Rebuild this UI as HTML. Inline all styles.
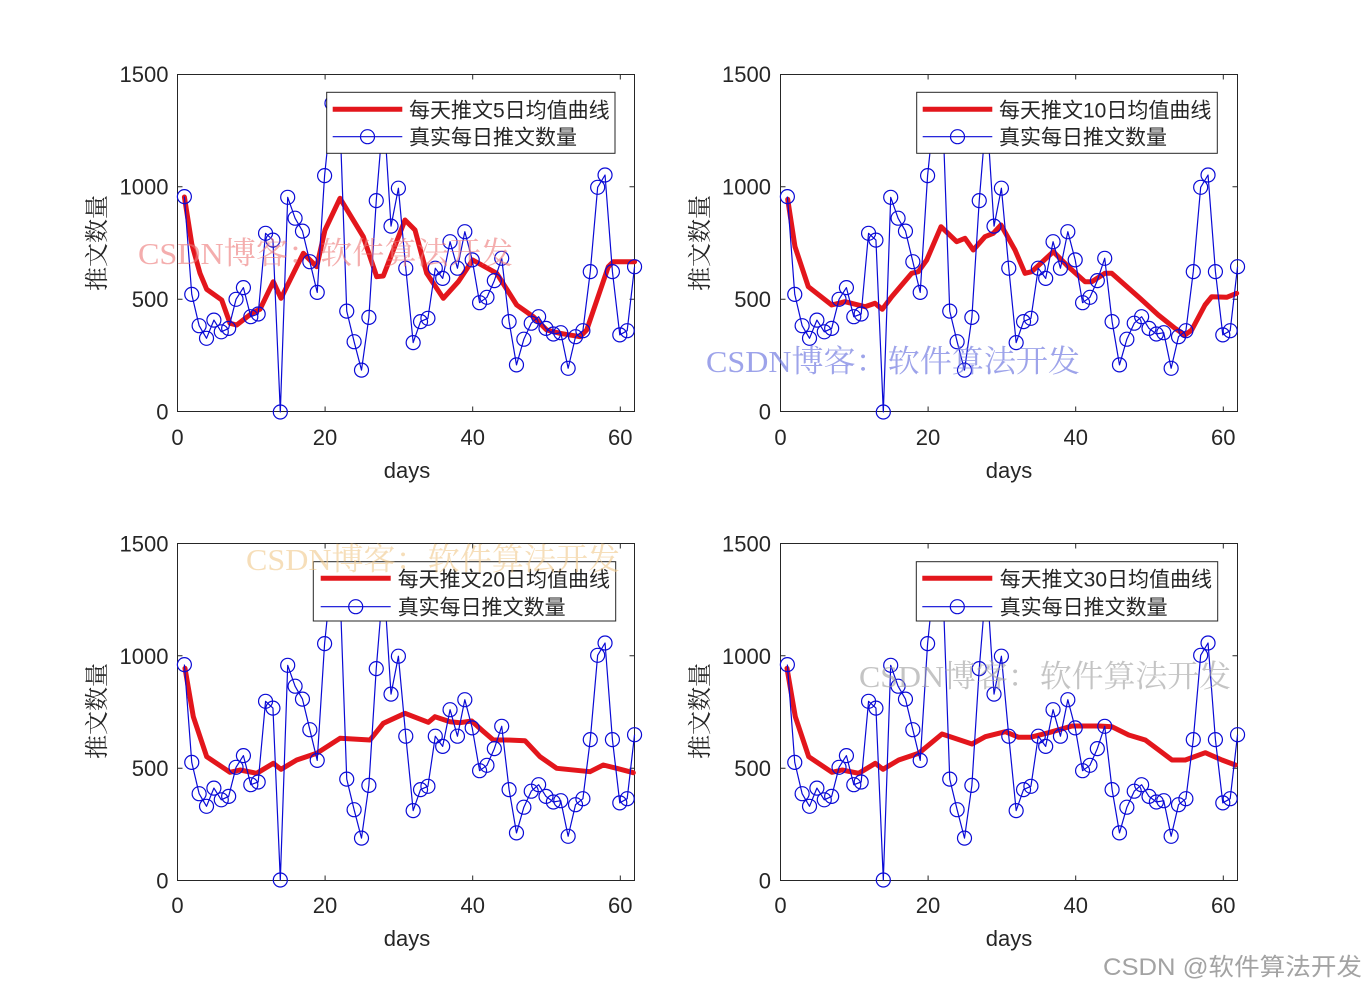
<!DOCTYPE html>
<html>
<head>
<meta charset="utf-8">
<style>
html,body{margin:0;padding:0;background:#fff;}
svg{display:block}
</style>
</head>
<body>
<svg width="1367" height="989" viewBox="0 0 1367 989" xmlns="http://www.w3.org/2000/svg" xmlns:xlink="http://www.w3.org/1999/xlink">
<defs>
<g id="blue" fill="none" stroke="#0a0ad6" stroke-width="1.2">
<polyline stroke-linejoin="round" points="7.38,-215.4 14.76,-117.6 22.14,-86.3 29.52,-73.7 36.9,-91.9 44.28,-80.2 51.66,-83.6 59.04,-112.7 66.42,-124.4 73.8,-95.3 81.18,-98 88.56,-178.7 95.94,-171.9 103.32,0 110.7,-214.7 118.08,-193.8 125.46,-180.9 132.84,-150.3 140.22,-119.6 147.6,-236.4 154.98,-308.7 162.36,-308.7 169.74,-100.9 177.12,-70.3 184.5,-41.9 191.88,-94.6 199.26,-211.4 206.64,-301.9 214.02,-185.9 221.4,-223.8 228.78,-143.8 236.16,-69.4 243.54,-90.4 250.92,-93.7 258.3,-143.8 265.68,-133.6 273.06,-170.3 280.44,-143.8 287.82,-180.3 295.2,-152.1 302.58,-109.3 309.96,-114.7 317.34,-131.4 324.72,-153.7 332.1,-90.4 339.48,-47.1 346.86,-72.8 354.24,-88.8 361.62,-95.3 369,-83.6 376.38,-78 383.76,-79.3 391.14,-43.7 398.52,-75.3 405.9,-81.3 413.28,-140.4 420.66,-224.7 428.04,-237 435.42,-140.4 442.8,-77.1 450.18,-81.3 457.56,-145.3"/>
<circle cx="7.38" cy="-215.4" r="7"/><circle cx="14.76" cy="-117.6" r="7"/><circle cx="22.14" cy="-86.3" r="7"/><circle cx="29.52" cy="-73.7" r="7"/><circle cx="36.9" cy="-91.9" r="7"/><circle cx="44.28" cy="-80.2" r="7"/><circle cx="51.66" cy="-83.6" r="7"/><circle cx="59.04" cy="-112.7" r="7"/><circle cx="66.42" cy="-124.4" r="7"/><circle cx="73.8" cy="-95.3" r="7"/><circle cx="81.18" cy="-98" r="7"/><circle cx="88.56" cy="-178.7" r="7"/><circle cx="95.94" cy="-171.9" r="7"/><circle cx="103.32" cy="0" r="7"/><circle cx="110.7" cy="-214.7" r="7"/><circle cx="118.08" cy="-193.8" r="7"/><circle cx="125.46" cy="-180.9" r="7"/><circle cx="132.84" cy="-150.3" r="7"/><circle cx="140.22" cy="-119.6" r="7"/><circle cx="147.6" cy="-236.4" r="7"/><circle cx="154.98" cy="-308.7" r="7"/><circle cx="162.36" cy="-308.7" r="7"/><circle cx="169.74" cy="-100.9" r="7"/><circle cx="177.12" cy="-70.3" r="7"/><circle cx="184.5" cy="-41.9" r="7"/><circle cx="191.88" cy="-94.6" r="7"/><circle cx="199.26" cy="-211.4" r="7"/><circle cx="206.64" cy="-301.9" r="7"/><circle cx="214.02" cy="-185.9" r="7"/><circle cx="221.4" cy="-223.8" r="7"/><circle cx="228.78" cy="-143.8" r="7"/><circle cx="236.16" cy="-69.4" r="7"/><circle cx="243.54" cy="-90.4" r="7"/><circle cx="250.92" cy="-93.7" r="7"/><circle cx="258.3" cy="-143.8" r="7"/><circle cx="265.68" cy="-133.6" r="7"/><circle cx="273.06" cy="-170.3" r="7"/><circle cx="280.44" cy="-143.8" r="7"/><circle cx="287.82" cy="-180.3" r="7"/><circle cx="295.2" cy="-152.1" r="7"/><circle cx="302.58" cy="-109.3" r="7"/><circle cx="309.96" cy="-114.7" r="7"/><circle cx="317.34" cy="-131.4" r="7"/><circle cx="324.72" cy="-153.7" r="7"/><circle cx="332.1" cy="-90.4" r="7"/><circle cx="339.48" cy="-47.1" r="7"/><circle cx="346.86" cy="-72.8" r="7"/><circle cx="354.24" cy="-88.8" r="7"/><circle cx="361.62" cy="-95.3" r="7"/><circle cx="369" cy="-83.6" r="7"/><circle cx="376.38" cy="-78" r="7"/><circle cx="383.76" cy="-79.3" r="7"/><circle cx="391.14" cy="-43.7" r="7"/><circle cx="398.52" cy="-75.3" r="7"/><circle cx="405.9" cy="-81.3" r="7"/><circle cx="413.28" cy="-140.4" r="7"/><circle cx="420.66" cy="-224.7" r="7"/><circle cx="428.04" cy="-237" r="7"/><circle cx="435.42" cy="-140.4" r="7"/><circle cx="442.8" cy="-77.1" r="7"/><circle cx="450.18" cy="-81.3" r="7"/><circle cx="457.56" cy="-145.3" r="7"/>
</g>
<g id="axes" fill="none" stroke="#262626" stroke-width="1">
<rect x="0" y="-337" width="457" height="337"/>
<path d="M147.6,0v-5 M295.2,0v-5 M442.8,0v-5 M147.6,-337v5 M295.2,-337v5 M442.8,-337v5 M0,-112.3h5 M0,-224.7h5 M457,-112.3h-5 M457,-224.7h-5"/>
</g>
</defs>

<rect x="0" y="0" width="1367" height="989" fill="#fff"/>

<!-- Axes boxes -->
<use xlink:href="#axes" href="#axes" transform="translate(177.5,411.5)"/>
<use xlink:href="#axes" href="#axes" transform="translate(780.5,411.5)"/>
<use xlink:href="#axes" href="#axes" transform="translate(177.5,880.5)"/>
<use xlink:href="#axes" href="#axes" transform="translate(780.5,880.5)"/>

<!-- Subplot 1 data -->
<g transform="translate(177,412)">
<polyline fill="none" stroke="#e3161c" stroke-width="5" stroke-linejoin="round" stroke-linecap="round" points="7.4,-215 14.8,-168 23,-138.7 29.7,-122.7 44.7,-112 53,-88.7 59.7,-87 74.7,-98.7 83,-102.7 96.3,-130.3 104,-113.7 126.3,-158.7 139.7,-145.3 148,-182 163,-213.7 186.3,-175.3 199.7,-135.3 206.3,-136 228,-192 238,-182 249.7,-138.7 266.3,-113.7 281.3,-130.3 295.7,-152 319.7,-138.7 339.7,-107 356.3,-95.3 369.7,-82 383,-78.7 403,-75.3 409.7,-82 431.3,-145.3 436.3,-150.3 457.6,-150.3"/>
<use xlink:href="#blue" href="#blue"/>
</g>
<!-- Subplot 2 data -->
<g transform="translate(780,412)">
<polyline fill="none" stroke="#e3161c" stroke-width="5" stroke-linejoin="round" stroke-linecap="round" points="7.7,-212.7 15,-165.3 28.3,-125.3 51.7,-107 65,-110.3 85,-105.3 95,-108.7 102.3,-102.7 111.7,-115.3 131.7,-138.7 138.3,-140.3 146.7,-152 161,-185.3 176.7,-170.3 185,-173.7 193.3,-162 205,-175.3 213.3,-178.7 221,-187 235,-162 245,-138.7 251.7,-140.3 273.3,-160.3 288.3,-145.3 305,-130.3 311.7,-130.3 325,-138.7 331.7,-138.7 358.3,-115.3 378.3,-97 395,-83.7 405,-77 411.7,-82 425,-107 431.7,-115.3 446.7,-114.7 456.7,-118.7"/>
<use xlink:href="#blue" href="#blue"/>
</g>
<!-- Subplot 3 data -->
<g transform="translate(177,880)">
<polyline fill="none" stroke="#e3161c" stroke-width="5" stroke-linejoin="round" stroke-linecap="round" points="8,-211.7 16.3,-163.3 29.7,-123.3 53,-107.7 63,-110 79.7,-106.7 96.3,-116.7 104,-110.7 119.7,-120 139.7,-126.7 163,-141.7 193,-140 206.3,-156.7 228,-166.7 251.3,-157.7 258,-163.3 273,-158.3 283,-157.3 294.7,-159 304.7,-150 316.3,-140 329.7,-140 348,-139.3 363,-123.3 379.7,-111.7 413,-108.3 426.3,-115 439.7,-111.7 456.3,-107.3"/>
<use xlink:href="#blue" href="#blue"/>
</g>
<!-- Subplot 4 data -->
<g transform="translate(780,880)">
<polyline fill="none" stroke="#e3161c" stroke-width="5" stroke-linejoin="round" stroke-linecap="round" points="7,-211.7 15.3,-163.3 28.7,-123.3 52,-107.7 62,-110 78.7,-106.7 95.3,-116.7 103,-110.7 118.7,-120 138.7,-126.7 162,-146 192,-136 205.3,-143.3 225.3,-148.3 238.7,-142.7 250.3,-142.7 268.7,-147.3 292,-154 318.7,-154 332,-153.3 348.7,-145 365.3,-140 378.7,-130 392,-120 405.3,-120 425.3,-127.3 442,-120 455.3,-115"/>
<use xlink:href="#blue" href="#blue"/>
</g>

<!-- Legends -->
<g font-family="Liberation Sans, 'Noto Sans CJK SC', sans-serif" font-size="21" fill="#262626">
  <rect x="326.7" y="92.3" width="288.3" height="61" fill="#fff" stroke="#262626" stroke-width="1"/>
  <line x1="332.7" y1="109.3" x2="402.3" y2="109.3" stroke="#e3161c" stroke-width="5"/>
  <line x1="332.7" y1="136.7" x2="402.3" y2="136.7" stroke="#0a0ad6" stroke-width="1.2"/>
  <circle cx="367.5" cy="136.7" r="7" fill="none" stroke="#0a0ad6" stroke-width="1.2"/>
  <text x="409" y="117.3">每天推文5日均值曲线</text>
  <text x="409" y="144.7">真实每日推文数量</text>

  <rect x="916.7" y="92.3" width="300.6" height="61" fill="#fff" stroke="#262626" stroke-width="1"/>
  <line x1="922.7" y1="109.3" x2="992.3" y2="109.3" stroke="#e3161c" stroke-width="5"/>
  <line x1="922.7" y1="136.7" x2="992.3" y2="136.7" stroke="#0a0ad6" stroke-width="1.2"/>
  <circle cx="957.5" cy="136.7" r="7" fill="none" stroke="#0a0ad6" stroke-width="1.2"/>
  <text x="999" y="117.3">每天推文10日均值曲线</text>
  <text x="999" y="144.7">真实每日推文数量</text>

  <rect x="313.3" y="561.7" width="302.4" height="59.3" fill="#fff" stroke="#262626" stroke-width="1"/>
  <line x1="320.7" y1="578.3" x2="390.7" y2="578.3" stroke="#e3161c" stroke-width="5"/>
  <line x1="320.7" y1="606.7" x2="390.7" y2="606.7" stroke="#0a0ad6" stroke-width="1.2"/>
  <circle cx="355.7" cy="606.7" r="7" fill="none" stroke="#0a0ad6" stroke-width="1.2"/>
  <text x="397.7" y="586.3">每天推文20日均值曲线</text>
  <text x="397.7" y="614.7">真实每日推文数量</text>

  <rect x="916.3" y="561.7" width="301.4" height="59.3" fill="#fff" stroke="#262626" stroke-width="1"/>
  <line x1="922.3" y1="578.3" x2="992.3" y2="578.3" stroke="#e3161c" stroke-width="5"/>
  <line x1="922.3" y1="606.7" x2="992.3" y2="606.7" stroke="#0a0ad6" stroke-width="1.2"/>
  <circle cx="957.3" cy="606.7" r="7" fill="none" stroke="#0a0ad6" stroke-width="1.2"/>
  <text x="999.7" y="586.3">每天推文30日均值曲线</text>
  <text x="999.7" y="614.7">真实每日推文数量</text>
</g>

<!-- Tick labels -->
<g font-family="Liberation Sans, sans-serif" font-size="22" fill="#262626">
  <g text-anchor="middle">
    <text x="177.5" y="445">0</text><text x="325" y="445">20</text><text x="472.7" y="445">40</text><text x="620.3" y="445">60</text>
    <text x="780.5" y="445">0</text><text x="928" y="445">20</text><text x="1075.7" y="445">40</text><text x="1223.3" y="445">60</text>
    <text x="177.5" y="913">0</text><text x="325" y="913">20</text><text x="472.7" y="913">40</text><text x="620.3" y="913">60</text>
    <text x="780.5" y="913">0</text><text x="928" y="913">20</text><text x="1075.7" y="913">40</text><text x="1223.3" y="913">60</text>
    <text x="407" y="478">days</text><text x="1009" y="478">days</text>
    <text x="407" y="946">days</text><text x="1009" y="946">days</text>
  </g>
  <g text-anchor="end">
    <text x="168.5" y="82">1500</text><text x="168.5" y="194.5">1000</text><text x="168.5" y="307">500</text><text x="168.5" y="419.5">0</text>
    <text x="771" y="82">1500</text><text x="771" y="194.5">1000</text><text x="771" y="307">500</text><text x="771" y="419.5">0</text>
    <text x="168.5" y="551.5">1500</text><text x="168.5" y="663.8">1000</text><text x="168.5" y="776.2">500</text><text x="168.5" y="888.5">0</text>
    <text x="771" y="551.5">1500</text><text x="771" y="663.8">1000</text><text x="771" y="776.2">500</text><text x="771" y="888.5">0</text>
  </g>
</g>

<!-- Y labels -->
<g font-family="Liberation Serif, 'Noto Serif CJK SC', serif" font-size="24" fill="#262626" text-anchor="middle">
  <text transform="translate(105,243) rotate(-90)">推文数量</text>
  <text transform="translate(708,243) rotate(-90)">推文数量</text>
  <text transform="translate(105,711) rotate(-90)">推文数量</text>
  <text transform="translate(708,711) rotate(-90)">推文数量</text>
</g>

<!-- Watermarks -->
<g font-family="Liberation Serif, 'Noto Serif CJK SC', serif" font-size="31">
  <text x="138" y="264" textLength="375" lengthAdjust="spacingAndGlyphs" fill="#ee7a7a" fill-opacity="0.62">CSDN博客：软件算法开发</text>
  <text x="706" y="372" textLength="374" lengthAdjust="spacingAndGlyphs" fill="#6f78e0" fill-opacity="0.68">CSDN博客：软件算法开发</text>
  <text x="246" y="570" textLength="374" lengthAdjust="spacingAndGlyphs" fill="#f0c88a" fill-opacity="0.6">CSDN博客：软件算法开发</text>
  <text x="859" y="687" textLength="372" lengthAdjust="spacingAndGlyphs" fill="#a0a0a0" fill-opacity="0.62">CSDN博客：软件算法开发</text>
</g>
<text x="1103" y="975" font-family="Liberation Sans, 'Noto Sans CJK SC', sans-serif" font-size="24" textLength="259" lengthAdjust="spacingAndGlyphs" fill="#a3a3a3">CSDN @软件算法开发</text>
</svg>
</body>
</html>
